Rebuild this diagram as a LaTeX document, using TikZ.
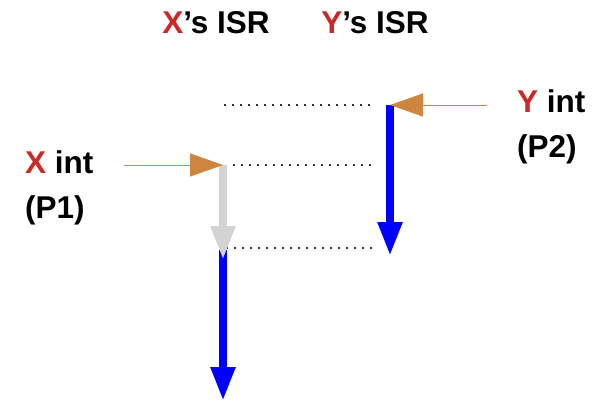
\documentclass[tikz,border=0pt]{standalone}
\usepackage{fontspec}
\setmainfont{Liberation Sans}
\usetikzlibrary{arrows.meta}

\definecolor{isrred}{RGB}{204,40,40}
\definecolor{intorange}{RGB}{205,133,63}
\definecolor{idlegray}{RGB}{211,211,211}

\tikzset{
    big text/.style={font=\fontsize{31.5}{45}\selectfont\bfseries, inner sep=0pt},
    int arrow/.style={intorange, line width=1pt, -{Triangle[length=33pt,width=23pt]}},
    run arrow/.style={blue, line width=8pt, -{Triangle[length=34pt,width=23pt]}},
    wait arrow/.style={idlegray, line width=8pt, -{Triangle[length=34pt,width=23pt]}},
    guide/.style={black!80, line width=1.6pt, dash pattern=on 1.6pt off 6.4pt}
}

\begin{document}
\begin{tikzpicture}[x=1pt, y=-1pt]
        \useasboundingbox (0,0) rectangle (604,402);

        % titles
        \node[big text, anchor=base] (xisr) at (216,33) {\textcolor{isrred}{X}’s ISR};
        \node[big text, anchor=base] (yisr) at (375,33) {\textcolor{isrred}{Y}’s ISR};

        % interrupt labels
        \node[
            big text,
            anchor=west,
            align=left
        ] (xint) at (25,188) {
            \textcolor{isrred}{X} int\\
            (P1)
        };
        \node[
            big text,
            anchor=west,
            align=left
        ] (yint) at (517,127) {
            \textcolor{isrred}{Y} int\\
            (P2)
        };

        % points on the time lines
        \coordinate (xin) at (124,165);
        \coordinate (xtop) at (223,165);
        \coordinate (xmid) at (223,250);
        \coordinate (xwait) at (223,260);
        \coordinate (xend) at (223,401);
        \coordinate (yin) at (487,105);
        \coordinate (ytop) at (390,105);
        \coordinate (yend) at (390,256);

        % dotted guides
        \draw[guide] (224,105) -- (374,105);
        \draw[guide] (233,165) -- (374,165);
        \draw[guide] (226,248) -- (376,248);

        % X handler
        \draw[run arrow] (xmid) -- (xend);
        \draw[wait arrow] (xtop) -- (xwait);
        \draw[int arrow] (xin) -- (xtop);

        % Y handler
        \draw[run arrow] (ytop) -- (yend);
        \draw[int arrow] (yin) -- (ytop);
\end{tikzpicture}
\end{document}
